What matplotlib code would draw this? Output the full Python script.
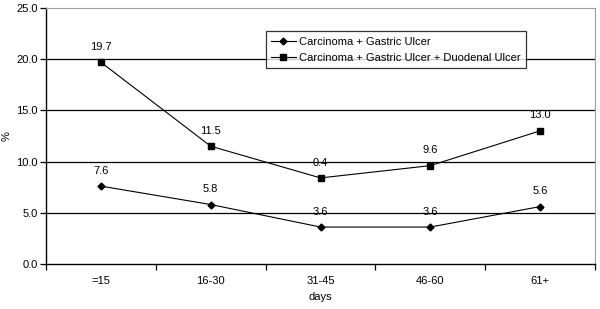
import matplotlib.pyplot as plt

plt.rcParams['font.family'] = ['Liberation Sans', 'DejaVu Sans']

# data
categories = ["=15", "16-30", "31-45", "46-60", "61+"]
carc_gastric = [7.6, 5.8, 3.6, 3.6, 5.6]
carc_gastric_duod = [19.7, 11.5, 8.4, 9.6, 13.0]
labels_gastric = ["7.6", "5.8", "3.6", "3.6", "5.6"]
labels_duod = ["19.7", "11.5", "0.4", "9.6", "13.0"]

fig = plt.figure(figsize=(6.0, 3.09), dpi=100)
ax = fig.add_axes([0.0767, 0.146, 0.915, 0.828])

x = list(range(len(categories)))

for y in [5, 10, 15, 20]:
    ax.axhline(y, color="black", lw=0.9, zorder=1)

ax.plot(x, carc_gastric, color="black", lw=0.8, marker="D", ms=3.5,
        label="Carcinoma + Gastric Ulcer", zorder=3)
ax.plot(x, carc_gastric_duod, color="black", lw=0.8, marker="s", ms=4,
        label="Carcinoma + Gastric Ulcer + Duodenal Ulcer", zorder=3)

for xi, yi, t in zip(x, carc_gastric, labels_gastric):
    ax.annotate(t, (xi, yi), xytext=(0, 7.5), textcoords="offset points",
                ha="center", va="bottom", fontsize=8)
for xi, yi, t in zip(x, carc_gastric_duod, labels_duod):
    ax.annotate(t, (xi, yi), xytext=(0, 7.5), textcoords="offset points",
                ha="center", va="bottom", fontsize=8)

ax.set_xlim(-0.5, len(categories) - 0.5)
ax.set_ylim(0, 25)
ax.set_yticks([0, 5, 10, 15, 20, 25])
ax.set_yticklabels(["0.0", "5.0", "10.0", "15.0", "20.0", "25.0"], fontsize=8)
ax.set_xticks(x)
ax.set_xticklabels(categories, fontsize=8)
ax.set_xticks([i - 0.5 for i in range(len(categories) + 1)], minor=True)
ax.tick_params(axis="x", which="major", length=0, pad=9)
ax.tick_params(axis="x", which="minor", length=4, width=0.9, direction="out")
ax.tick_params(axis="y", length=4, width=0.9, direction="out", pad=2)

ax.spines["left"].set_linewidth(1.0)
ax.spines["bottom"].set_linewidth(1.0)
ax.spines["top"].set_color("#a0a0a0")
ax.spines["right"].set_color("#a0a0a0")

ax.set_xlabel("days", fontsize=8, labelpad=4)
ax.set_ylabel("%", fontsize=8)
ax.yaxis.set_label_coords(-0.062, 0.5)

leg = ax.legend(loc="upper left", bbox_to_anchor=(0.39, 0.93), fontsize=8,
                frameon=True, fancybox=False, edgecolor="black",
                handlelength=2.2, borderpad=0.5, labelspacing=0.5,
                handletextpad=0.3)
leg.get_frame().set_linewidth(0.9)
leg.set_zorder(5)

fig.savefig("out.png", dpi=100)
